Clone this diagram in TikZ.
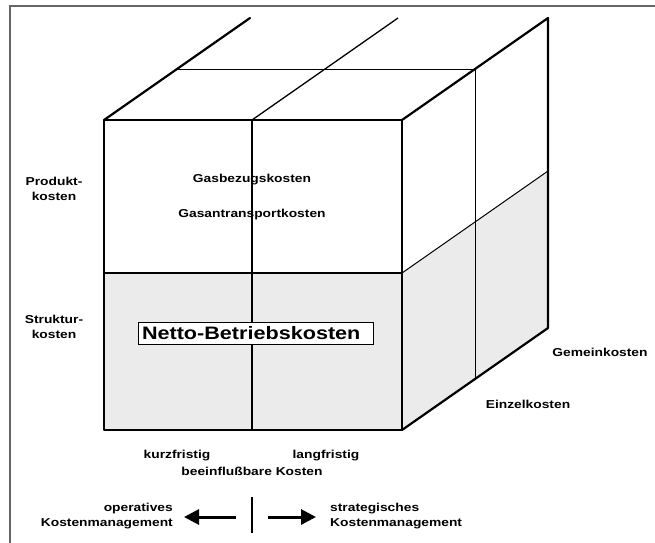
\documentclass[tikz,border=0pt]{standalone}
\usepackage{fontspec}
\setmainfont{Liberation Sans}
\newfontfamily\lbl{Liberation Sans}[FakeStretch=1.2]
\usetikzlibrary{arrows.meta}

\begin{document}
\begin{tikzpicture}[x=1pt,y=-1pt,
  edge/.style={line width=2.2pt, line join=round, line cap=round},
  midline/.style={line width=1.3pt},
  thinline/.style={line width=1pt},
  shade/.style={fill=black!8},
  lab/.style={font=\lbl\bfseries\fontsize{11.5}{15.5}\selectfont, inner sep=0pt, align=center},
  fatarrow/.style={line width=3pt, -{Triangle[length=15pt,width=15pt]}}
]
\useasboundingbox (0,0) rectangle (655,542);

% outer frame
\draw[line width=1.3pt, black!60] (10,560) -- (10,6) -- (670,6);

% front face corners
\coordinate (FTL) at (104,120);
\coordinate (FTM) at (252,120);
\coordinate (FTR) at (402,120);
\coordinate (FML) at (104,273);
\coordinate (FMR) at (402,273);
\coordinate (FBL) at (104,430);
\coordinate (FBM) at (252,430);
\coordinate (FBR) at (402,430);
% back edges (depth vector 146,-102)
\coordinate (BTL) at (250,18);
\coordinate (BTM) at (398,18);
\coordinate (BTR) at (548,18);
\coordinate (BMR) at (548,171);
\coordinate (BBR) at (548,328);
% half depth
\coordinate (HTL) at (177,69);
\coordinate (HTR) at (475,69);
\coordinate (HBR) at (475,379);

% shaded lower layer
\fill[shade] (FML) rectangle (FBR);
\fill[shade] (FMR) -- (BMR) -- (BBR) -- (FBR) -- cycle;

% inner division lines
\draw[thinline] (HTL) -- (HTR) -- (HBR);
\draw[thinline] (FMR) -- (BMR);
\draw[midline] (FTM) -- (BTM);
\draw[midline] (FTM) -- (FBM);
\draw[midline] (FML) -- (FMR);

% outer edges
\draw[edge] (FTL) rectangle (FBR);
\draw[edge] (FTL) -- (BTL);
\draw[edge] (FTR) -- (BTR) -- (BBR) -- (FBR);

% labels on the left
\node[lab] (prod) at (54,189) {Produkt-\\kosten};
\node[lab] (strk) at (54,327) {Struktur-\\kosten};

% labels on the front face
\node[lab] (gasb) at (252,180) {Gasbezugskosten};
\node[lab] (gast) at (252,215) {Gasantransportkosten};
\node[draw, line width=0.6pt, fill=white, minimum width=235pt, minimum height=22pt,
      text width=227pt, inner sep=4pt, align=left,
      font=\lbl\bfseries\fontsize{18}{20}\selectfont] (netto) at (255.5,333) {Netto-Betriebskosten};

% labels on the right
\node[lab] (gem) at (600,352) {Gemeinkosten};
\node[lab] (einz) at (528,404) {Einzelkosten};

% labels below the cube
\node[lab] (kurz) at (177,456) {kurzfristig};
\node[lab] (lang) at (326,456) {langfristig};
\node[lab] (beein) at (252,471) {beeinflußbare Kosten};

% management directions
\node[lab, align=right, anchor=east] (oper) at (173,516) {operatives\\Kostenmanagement};
\node[lab, align=left, anchor=west] (strat) at (330,516) {strategisches\\Kostenmanagement};
\coordinate (barT) at (252,497);
\coordinate (barB) at (252,533);
\draw[line width=2pt] (barT) -- (barB);
\coordinate (lfrom) at (236,517);
\coordinate (lto) at (184,517);
\coordinate (rfrom) at (268,517);
\coordinate (rto) at (316,517);
\draw[fatarrow] (lfrom) -- (lto);
\draw[fatarrow] (rfrom) -- (rto);
\end{tikzpicture}
\end{document}
